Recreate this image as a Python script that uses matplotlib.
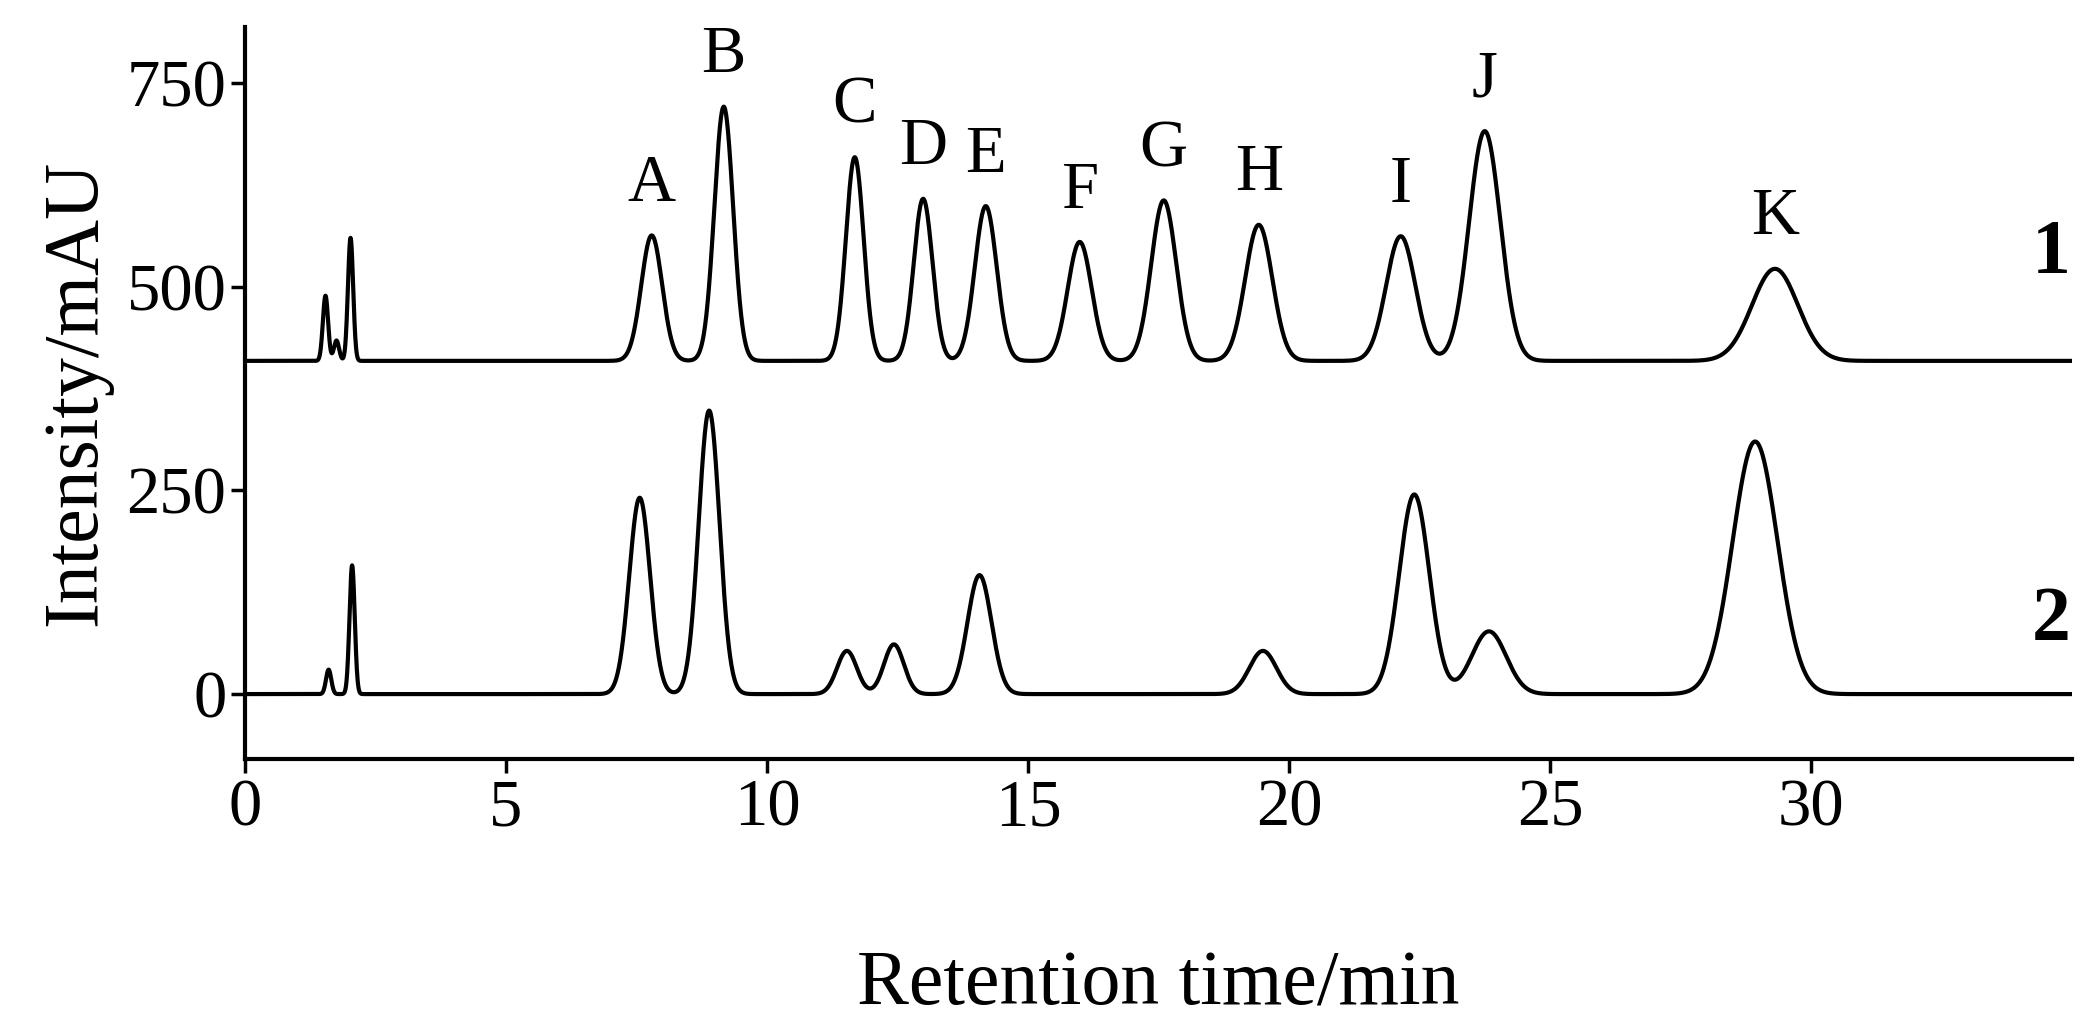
import numpy as np
import matplotlib
matplotlib.use("Agg")
import matplotlib.pyplot as plt

plt.rcParams['font.family'] = ['Liberation Serif', 'DejaVu Serif']

labels = ["A","B","C","D","E","F","G","H","I","J","K"]
t1 = [7.79, 9.17, 11.68, 12.99, 14.19, 15.99, 17.60, 19.42, 22.14, 23.75, 29.31]
h1 = [154, 312, 250, 199, 190, 146, 197, 167, 153, 282, 113]
w1 = [0.20, 0.18, 0.17, 0.18, 0.21, 0.23, 0.24, 0.26, 0.28, 0.30, 0.44]
spike_t1 = [1.54, 1.75, 2.02]
spike_h1 = [80, 25, 151]
base1 = 409

t2 = [7.56, 8.89, 11.53, 12.43, 14.07, 19.50, 22.40, 23.83, 28.93]
h2 = [241, 348, 53, 61, 146, 53, 245, 77, 310]
w2 = [0.20, 0.20, 0.19, 0.19, 0.23, 0.26, 0.29, 0.33, 0.43]
spike_t2 = [1.60, 2.05]
spike_h2 = [30, 158]

x = np.linspace(0, 35, 7000)
def trace(ts, hs, ws, st, sh, base):
    y = np.full_like(x, float(base))
    for t, h, w in zip(ts, hs, ws):
        y += h*np.exp(-0.5*((x-t)/w)**2)
    for t, h in zip(st, sh):
        y += h*np.exp(-0.5*((x-t)/0.05)**2)
    return y

fig = plt.figure(figsize=(20.95, 10.33), dpi=100)
ax = fig.add_axes([0.117, 0.265, 0.872, 0.709])
ax.plot(x, trace(t1, h1, w1, spike_t1, spike_h1, base1), color='black', lw=3)
ax.plot(x, trace(t2, h2, w2, spike_t2, spike_h2, 0), color='black', lw=3)
for lab, t, h, w in zip(labels, t1, h1, w1):
    ax.text(t, base1+h+25, lab, ha='center', va='bottom', fontsize=48)
ax.text(34.6, 540, "1", fontsize=56, fontweight='bold', ha='center', va='center')
ax.text(34.6, 89, "2", fontsize=56, fontweight='bold', ha='center', va='center')
ax.set_xlim(0, 35)
ax.set_ylim(-80, 819)
ax.set_xticks(range(0, 35, 5))
ax.set_yticks([0, 250, 500, 750])
ax.spines['top'].set_visible(False)
ax.spines['right'].set_visible(False)
ax.spines['left'].set_linewidth(3)
ax.spines['bottom'].set_linewidth(3)
ax.tick_params(axis='both', labelsize=48, width=2.5, length=10)
ax.set_xlabel("Retention time/min", fontsize=56, labelpad=80)
ax.set_ylabel("Intensity/mAU", fontsize=56, labelpad=10)
fig.savefig("out.png", dpi=100)
